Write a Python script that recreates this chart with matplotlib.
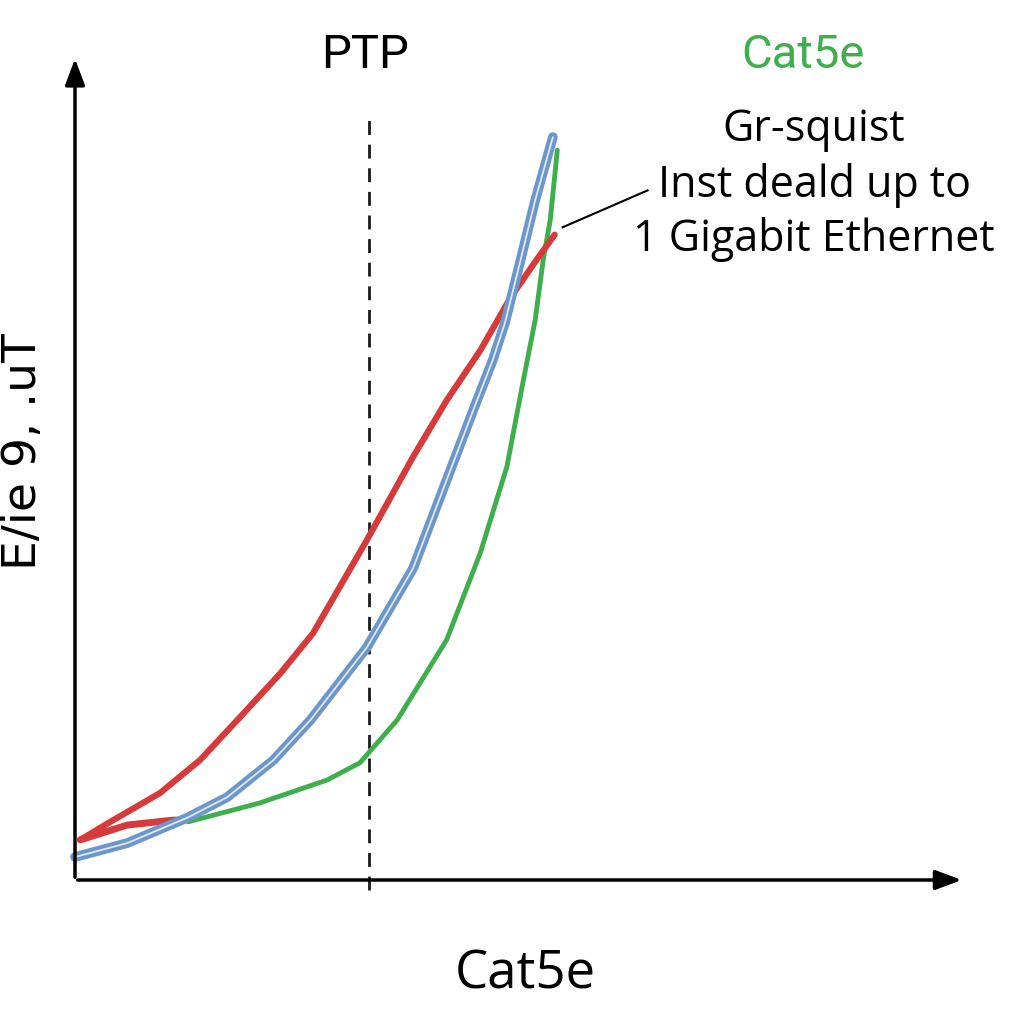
import matplotlib.pyplot as plt

# curve values (x 0..10, y 0..10)
red_x = [0.06, 0.40, 0.96, 1.41, 1.86, 2.32, 2.69, 3.30, 3.82, 4.20, 4.58, 4.92, 5.20, 5.42]
red_y = [0.49, 0.71, 1.06, 1.46, 1.98, 2.52, 3.01, 4.15, 5.16, 5.85, 6.46, 7.10, 7.54, 7.87]
red_stub_x = [0.06, 0.59, 1.11, 1.24]
red_stub_y = [0.49, 0.67, 0.73, 0.73]

blue_x = [0.0, 0.59, 1.27, 1.72, 2.24, 2.66, 3.30, 3.82, 4.20, 4.50, 4.72, 4.86, 5.03, 5.20, 5.40]
blue_y = [0.28, 0.45, 0.76, 1.01, 1.46, 1.95, 2.84, 3.80, 4.88, 5.73, 6.34, 6.80, 7.54, 8.29, 9.06]

green_x = [1.28, 2.09, 2.85, 3.22, 3.64, 4.20, 4.58, 4.88, 5.06, 5.20, 5.29, 5.37, 5.45]
green_y = [0.71, 0.94, 1.22, 1.43, 1.95, 2.93, 3.99, 5.04, 6.06, 6.83, 7.56, 8.05, 8.90]

ptp_x = 3.32
note_lines = ["Gr-squist", "Inst deald up to", "1 Gigabit Ethernet"]

RED = "#d63a3a"
BLUE = "#6d96c9"
GREEN = "#3fae4c"

narrow = ["DejaVu Sans Condensed", "Liberation Sans Narrow", "Roboto", "DejaVu Sans"]

fig = plt.figure(figsize=(10.24, 10.24), dpi=100)
ax = fig.add_axes([75 / 1024, 144 / 1024, 885 / 1024, 820 / 1024])
ax.set_xlim(0, 10)
ax.set_ylim(0, 10)
ax.axis("off")

# axes with arrows
ax.annotate("", xy=(10.05, 0), xytext=(0, 0), annotation_clip=False,
            arrowprops=dict(arrowstyle="-|>,head_length=1.6,head_width=0.6",
                            color="black", lw=2.5))
ax.annotate("", xy=(0, 10.05), xytext=(0, 0), annotation_clip=False,
            arrowprops=dict(arrowstyle="-|>,head_length=1.6,head_width=0.6",
                            color="black", lw=2.5))

# dashed PTP line
ax.plot([ptp_x, ptp_x], [-0.12, 9.27], ls=(0, (5, 3.5)), color="#1a1a1a", lw=2,
        clip_on=False)

ax.plot(green_x, green_y, color=GREEN, lw=3.5, solid_capstyle="round",
        solid_joinstyle="round")
ax.plot(red_stub_x, red_stub_y, color=RED, lw=5, solid_capstyle="round")
ax.plot(red_x, red_y, color=RED, lw=4.5, solid_capstyle="round",
        solid_joinstyle="round")
ax.plot(blue_x, blue_y, color=BLUE, lw=7, solid_capstyle="round",
        solid_joinstyle="round", clip_on=False)
ax.plot(blue_x, blue_y, color="#dce9f7", lw=1.3, solid_capstyle="round",
        solid_joinstyle="round", clip_on=False)

# callout line
ax.plot([5.51, 6.47], [7.96, 8.41], color="black", lw=1.5)

fig.text(365 / 1024, 1 - 55 / 1024, "PTP", ha="center", va="center",
         fontsize=34, family=narrow)
fig.text(803 / 1024, 1 - 55 / 1024, "Cat5e", ha="center", va="center",
         fontsize=34, color=GREEN, family=narrow)
for i, line in enumerate(note_lines):
    fig.text(814 / 1024, 1 - (130 + 55 * i) / 1024, line, ha="center",
             va="center", fontsize=31, family=["Open Sans", "DejaVu Sans"])
fig.text(525 / 1024, 1 - 975 / 1024, "Cat5e", ha="center", va="center",
         fontsize=38, family=["Open Sans", "DejaVu Sans"])
fig.text(24 / 1024, 1 - 452 / 1024, "E/ie 9, .uT", ha="center", va="center",
         fontsize=34, rotation=90)

fig.savefig("out.png", dpi=100, facecolor="white")
